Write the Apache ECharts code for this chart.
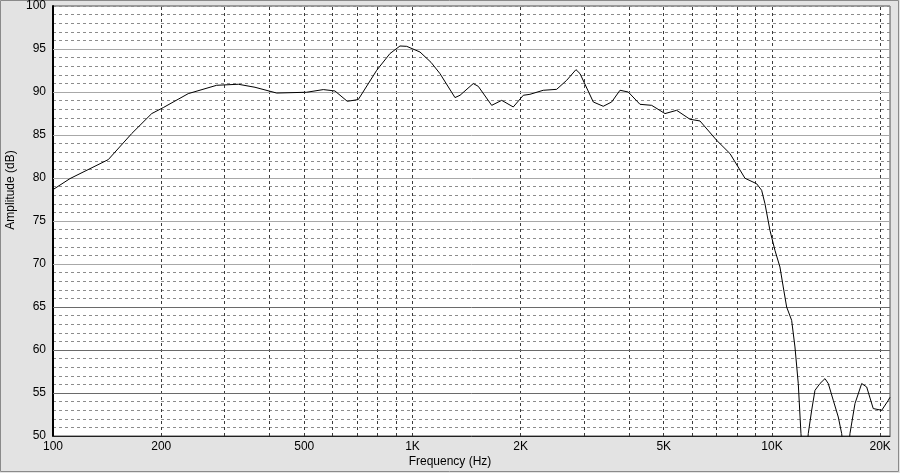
<!DOCTYPE html>
<html><head><meta charset="utf-8">
<script src="https://cdn.jsdelivr.net/npm/echarts@6/dist/echarts.min.js"></script>
<style>html,body{margin:0;padding:0;background:#e3e3e3}#c{width:900px;height:473px}</style>
</head><body><div id="c"></div><script>
// Frequency response data (Hz, dB)
const freqs = [100,111.5,142.5,165.5,188.2,202.7,237.8,285.3,327.7,364.7,419,507.7,564.8,608.6,658.6,706.7,795.2,865.8,923.1,963.6,1049.3,1126,1192.5,1313,1356,1476,1524,1661,1771,1907,2034,2122,2311,2518,2685,2850,2924,3184,3394,3582,3778,3984,4294,4628,5040,5431,5914,6306,7018,7642,8413,9066,9361,9561,9872,10193,10525,10750,10987,11344,11588,11836,12042,12315,12619,12896,13173,13601,14044,14345,14811,15293,15630,16064,16482,17019,17766,18344,19132,20197,21067,21297];
const amps = [78.65,79.93,82.14,85.16,87.49,88.19,89.81,90.78,90.9,90.55,89.88,89.97,90.28,90.12,88.92,89.12,92.52,94.47,95.35,95.31,94.65,93.45,92.14,89.35,89.62,90.98,90.66,88.45,89.03,88.26,89.62,89.73,90.2,90.31,91.36,92.6,92.14,88.84,88.34,88.84,90.2,90.0,88.57,88.45,87.49,87.87,86.83,86.63,84.38,82.84,79.97,79.33,78.57,77.02,73.92,71.59,69.65,67.33,65.0,63.45,60.35,56.09,50.28,45,50.28,52.99,55.31,56.1,56.67,56.1,54.15,52.21,50.28,45,50.28,53.77,56.1,55.7,53.19,52.99,54.15,54.5];
const xTickValues = [100,200,500,1000,2000,5000,10000,20000];
const xGridValues = [200,300,400,500,600,700,800,900,1000,2000,3000,4000,5000,6000,7000,8000,9000,10000,20000];
const yMajorValues = [55,60,65,70,75,80,85,90,95];

const chart = echarts.init(document.getElementById('c'), null, {renderer:'canvas'});
const font = 'Liberation Sans, Arial, sans-serif';
const gridLines = [];
xGridValues.forEach(v => gridLines.push({xAxis: v, lineStyle:{color:'#3a3a3a', type:[3,3], width:1}}));
yMajorValues.forEach(v => gridLines.push({yAxis: v, lineStyle:{color: v <= 65 ? '#6a6a6a' : '#a8a8a8', type:'solid', width:1}}));

chart.setOption({
  animation:false,
  backgroundColor:'#e3e3e3',
  grid:{left:53, right:10, top:5, bottom:37, show:true, backgroundColor:'#ffffff', borderColor:'#505050', borderWidth:1},
  xAxis:{
    type:'log', logBase:10, min:100, max:21300,
    axisLine:{show:true, onZero:false, lineStyle:{color:'#202020', width:1}},
    axisTick:{show:false},
    splitLine:{show:false}, minorSplitLine:{show:false},
    axisLabel:{
      customValues: xTickValues,
      showMinLabel:true, showMaxLabel:true,
      color:'#000', fontFamily:font, fontSize:12, margin:5,
      formatter: v => { const r = Math.round(v); return r >= 1000 ? (r/1000)+'K' : String(r); }
    }
  },
  yAxis:{
    type:'value', min:50, max:100, interval:1,
    axisLine:{show:true, lineStyle:{color:'#000', width:2}},
    axisTick:{show:false},
    splitLine:{show:true, lineStyle:{color:'#8c8c8c', type:[3,3], width:1}},
    axisLabel:{
      color:'#000', fontFamily:font, fontSize:12, margin:7,
      formatter: v => (Math.round(v) % 5 === 0 ? String(Math.round(v)) : '')
    }
  },
  series:[
    {type:'line', data:[], z:1, silent:true,
     markLine:{silent:true, symbol:['none','none'], label:{show:false}, animation:false, data:gridLines}},
    {type:'line', z:5, showSymbol:false, symbol:'none', clip:true,
     lineStyle:{color:'#000', width:1},
     data: freqs.map((f,i) => [f, amps[i]])}
  ],
  graphic:[
    {type:'rect', shape:{x:0.5,y:0.5,width:898,height:471}, style:{fill:'none', stroke:'#8a8a8a', lineWidth:1}, silent:true},
    {type:'text', x:450, y:462, style:{text:'Frequency (Hz)', font:'12px '+font, fill:'#000', textAlign:'center', textVerticalAlign:'middle'}},
    {type:'text', x:11, y:190, rotation:Math.PI/2, style:{text:'Amplitude (dB)', font:'12px '+font, fill:'#000', textAlign:'center', textVerticalAlign:'middle'}}
  ]
});
</script></body></html>
